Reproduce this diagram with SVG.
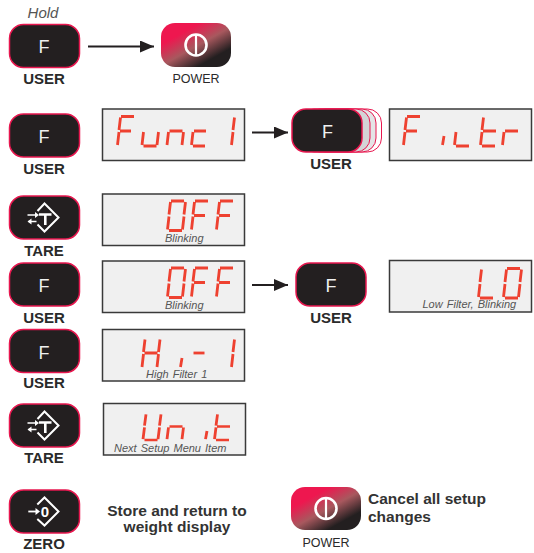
<svg xmlns="http://www.w3.org/2000/svg" width="534" height="553" viewBox="0 0 534 553">
<style>
text{font-family:"Liberation Sans",Arial,sans-serif}
.btn{fill:#231f20;stroke:#e8174f;stroke-width:1.5}
.pwr{fill:url(#pg);stroke:none}
.disp{fill:#f0f0f0;stroke:#3a3a3a;stroke-width:1.5}
.lab{font-size:15px;font-weight:bold;fill:#2a2a2a;text-anchor:middle}
.plab{font-size:12.5px;fill:#2a2a2a;text-anchor:middle}
.f{font-size:18px;fill:#f0f0f0;text-anchor:middle}
.note{font-size:11px;font-style:italic;fill:#555}
.msg{font-size:15.5px;font-weight:bold;fill:#333}
.seg{stroke:#ee4130;stroke-width:2.8;fill:none;stroke-linecap:butt}
.ic{stroke:#fff;stroke-width:2;fill:none}
.wire{stroke:#231f20;stroke-width:2;fill:none}
</style>
<defs>
<linearGradient id="pg" x1="0.1" y1="0.05" x2="0.9" y2="0.95">
<stop offset="0.22" stop-color="#ee174f"/><stop offset="0.52" stop-color="#a8585e"/><stop offset="0.82" stop-color="#231f20"/>
</linearGradient>
<marker id="ah" markerUnits="userSpaceOnUse" markerWidth="14" markerHeight="12" refX="14" refY="6" orient="auto"><path d="M0 0L14 6L0 12z" fill="#231f20"/></marker>
<rect id="b" width="70" height="43" rx="14"/>
<path id="gF" d="M4 .5H17M3.5 1.500L2 14M3 15H14M2 16L.5 29"/>
<path id="g0" d="M4 .5H17M18.500 1.500L17 14M17 16L15.500 29M2 30H15M2 16L.5 29M3.500 1.500L2 14"/>
<path id="gu" d="M2 16L.5 29M2 30H15M17 16L15.500 29"/>
<path id="gn" d="M2 16L.5 29M3 15H16M17 16L15.500 29"/>
<path id="gc" d="M3 15H15M2 16L.5 29M2 30H14"/>
<path id="g1" d="M18.500 1.500L17 14M17 16L15.500 29"/>
<path id="gi" d="M2 20L.5 29"/>
<path id="gl" d="M2 16L.5 29M2 30H15"/>
<path id="gL" d="M3.500 1.500L2 14M2 16L.5 29M2 30H15"/>
<path id="gt" d="M3.500 1.500L2 14M2 16L.5 29M3 15H16M2 30H15"/>
<path id="gr" d="M2 16L.5 29M3 15H16"/>
<path id="gH" d="M3.500 1.500L2 14M2 16L.5 29M18.500 1.500L17 14M17 16L15.500 29M3 15H16"/>
<path id="gU" d="M3.500 1.500L2 14M2 16L.5 29M18.500 1.500L17 14M17 16L15.500 29M2 30H15"/>
<path id="gd" d="M3 15H14"/>
<g id="tare"><path class="ic" d="M-7 -6.500L0 -14L14 0L0 14L-7 7"/><path d="M-5.500 -3H7M.8 -3V7.500" stroke="#fff" stroke-width="2.6" fill="none"/><path d="M-17 -2.500H-8M-8 4H-16" stroke="#fff" stroke-width="1.500" fill="none"/><path d="M-5.500 -2.500L-9.500 -5.500V.5zM-17 4L-13 1V7z" fill="#fff"/></g>
<g id="pwicon"><circle r="10.500" fill="none" stroke="#fff" stroke-width="2.600"/><path d="M0 -10V10" stroke="#fff" stroke-width="2.200"/></g>
</defs>

<g id="connectors">
<path class="wire" d="M88 46.500H154" marker-end="url(#ah)"/>
<path class="wire" d="M252 132.500H288" marker-end="url(#ah)"/>
<path class="wire" d="M252 285H288" marker-end="url(#ah)"/>
</g>

<g id="n-hold-user"><text x="43" y="18" class="note" style="font-size:15px" text-anchor="middle">Hold</text><use href="#b" x="9.500" y="24.500" class="btn"/><text x="44" y="53" class="f">F</text><text x="44" y="84" class="lab">USER</text></g>
<g id="n-power-top"><rect x="161" y="23" width="70" height="44" rx="14" class="pwr"/><use href="#pwicon" x="196" y="45"/><text x="196" y="83" class="plab">POWER</text></g>

<g id="n-user-2"><use href="#b" x="9.500" y="114" class="btn"/><text x="44" y="143" class="f">F</text><text x="44" y="174" class="lab">USER</text></g>
<g id="d-func"><rect x="102.500" y="109" width="142" height="51.500" class="disp"/><g class="seg"><use href="#gF" x="117" y="116"/><use href="#gu" x="141.500" y="116"/><use href="#gn" x="166.500" y="116"/><use href="#gc" x="191" y="116"/><use href="#g1" x="216" y="116"/></g></g>
<g id="n-user-stack">
<rect x="311" y="109" width="70.500" height="43" rx="14" fill="#fff" stroke="#e8174f" stroke-width="1"/>
<rect x="306" y="109" width="70" height="43" rx="14" fill="#e4e4e6" stroke="#e8174f" stroke-width="1"/>
<rect x="300" y="109" width="70" height="43" rx="14" fill="#d4d4d6" stroke="#e8174f" stroke-width="1"/>
<use href="#b" x="292" y="109" class="btn"/><text x="327.500" y="138" class="f">F</text><text x="331" y="169" class="lab">USER</text></g>
<g id="d-filtr"><rect x="389.500" y="109" width="142" height="51.500" class="disp"/><g class="seg"><use href="#gF" x="403" y="116"/><use href="#gi" x="442" y="116"/><use href="#gl" x="454" y="116"/><use href="#gt" x="480" y="116"/><use href="#gr" x="502" y="116"/></g></g>

<g id="n-tare-1"><use href="#b" x="9.500" y="196" class="btn"/><use href="#tare" x="44.500" y="217.500"/><text x="44" y="256" class="lab">TARE</text></g>
<g id="d-off-1"><rect x="102.500" y="194" width="142" height="51.500" class="disp"/><g class="seg"><use href="#g0" x="167" y="200.500"/><use href="#gF" x="191" y="200.500"/><use href="#gF" x="216" y="200.500"/></g><text x="165" y="242" class="note">Blinking</text></g>

<g id="n-user-3"><use href="#b" x="9.500" y="263" class="btn"/><text x="44" y="292" class="f">F</text><text x="44" y="323" class="lab">USER</text></g>
<g id="d-off-2"><rect x="102.500" y="261" width="142" height="51.500" class="disp"/><g class="seg"><use href="#g0" x="167" y="267.500"/><use href="#gF" x="191" y="267.500"/><use href="#gF" x="216" y="267.500"/></g><text x="165" y="309" class="note">Blinking</text></g>
<g id="n-user-4"><use href="#b" x="296" y="263" class="btn"/><text x="331" y="292" class="f">F</text><text x="331" y="323" class="lab">USER</text></g>
<g id="d-lo"><rect x="389.500" y="260.500" width="142" height="51.500" class="disp"/><g class="seg"><use href="#gL" x="478" y="268"/><use href="#g0" x="503" y="268"/></g><text x="422.500" y="308" class="note" word-spacing="1">Low Filter, Blinking</text></g>

<g id="n-user-5"><use href="#b" x="9.500" y="329.500" class="btn"/><text x="44" y="358.500" class="f">F</text><text x="44" y="388" class="lab">USER</text></g>
<g id="d-hi"><rect x="102.500" y="329.500" width="142" height="51.500" class="disp"/><g class="seg"><use href="#gH" x="141.500" y="338"/><use href="#gi" x="180" y="338"/><use href="#gd" x="190.500" y="338"/><use href="#g1" x="216" y="338"/></g><text x="146" y="378" class="note" word-spacing="1">High Filter 1</text></g>

<g id="n-tare-2"><use href="#b" x="9.500" y="404" class="btn"/><use href="#tare" x="44.500" y="425.500"/><text x="44" y="463" class="lab">TARE</text></g>
<g id="d-unit"><rect x="103.500" y="403.500" width="142" height="51.500" class="disp"/><g class="seg" transform="translate(0,413) scale(1,.9)"><use href="#gU" x="142.500"/><use href="#gn" x="166.500"/><use href="#gi" x="205"/><use href="#gt" x="214"/></g><text x="114" y="452" class="note" word-spacing="1">Next Setup Menu Item</text></g>

<g id="n-zero"><use href="#b" x="9.500" y="490" class="btn"/>
<path class="ic" d="M37.300 504.500L44.500 497.500L58.500 511.500L44.500 525.500L37.300 519"/><path d="M28.300 511.500H36" stroke="#fff" stroke-width="1.800"/><path d="M40 511.500L35.500 508V515z" fill="#fff"/><text x="45" y="517" font-size="15" font-weight="bold" fill="#fff" text-anchor="middle">0</text>
<text x="44" y="549" class="lab">ZERO</text></g>
<g id="t-store"><text x="177" y="516" class="msg" text-anchor="middle">Store and return to</text><text x="177" y="532" class="msg" text-anchor="middle">weight display</text></g>
<g id="n-power-bottom"><rect x="291" y="487" width="70" height="43" rx="14" class="pwr"/><use href="#pwicon" x="326" y="508.500"/><text x="326" y="547" class="plab">POWER</text></g>
<g id="t-cancel"><text x="368" y="504" class="msg">Cancel all setup</text><text x="368" y="522" class="msg">changes</text></g>
</svg>
